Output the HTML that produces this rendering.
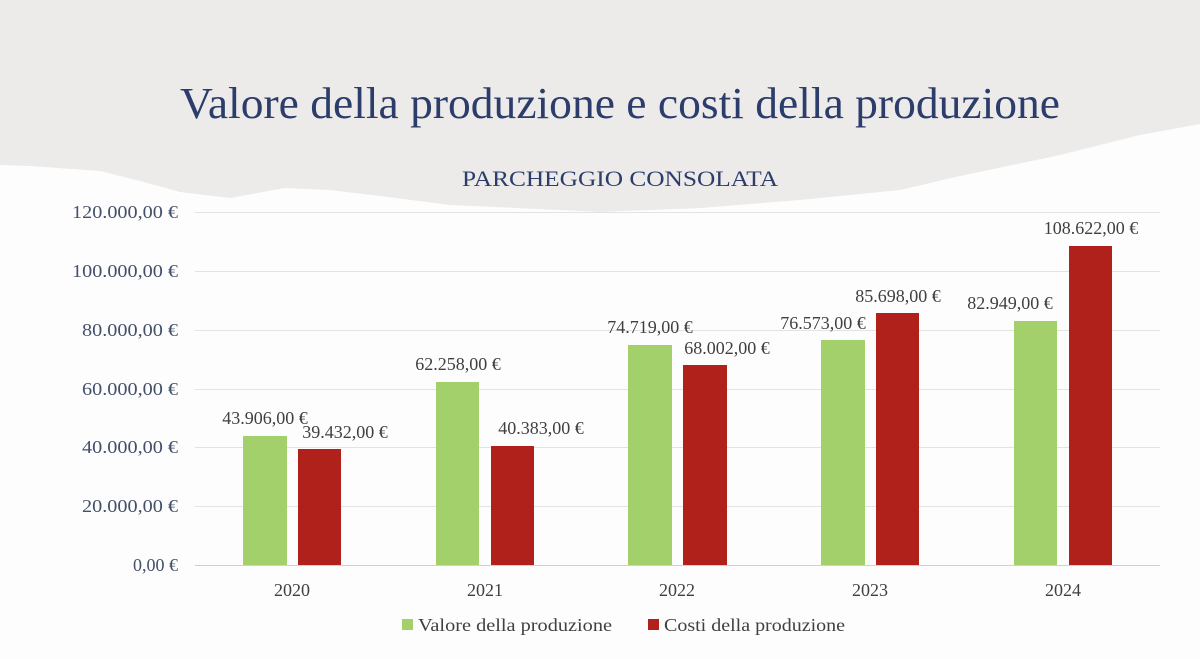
<!DOCTYPE html><html><head><style>
body{margin:0;width:1200px;height:659px;background:#fdfdfd;overflow:hidden;font-family:"Liberation Serif",serif}
</style></head><body>
<svg width="1200" height="659" xmlns="http://www.w3.org/2000/svg" style="position:absolute;left:0;top:0">
<rect width="1200" height="659" fill="#fdfdfd"/>
<polygon fill="#ecebe9" points="0,0 1200,0 1200,124 1140,135 1060,155 960,176 900,190 800,200 700,208 600,212 560,210 450,205 380,196 330,190 285,188 230,198 180,192 140,181 100,171 30,166 0,165"/>
<text x="620" y="118" text-anchor="middle" font-size="44" fill="#2c3d6c" textLength="880" lengthAdjust="spacingAndGlyphs">Valore della produzione e costi della produzione</text>
<text x="620" y="186" text-anchor="middle" font-size="22" fill="#2c3d6c" textLength="316" lengthAdjust="spacingAndGlyphs">PARCHEGGIO CONSOLATA</text>
<g stroke="#e3e3e3" stroke-width="1">
<line x1="195" x2="1160" y1="212.5" y2="212.5"/><line x1="195" x2="1160" y1="271.5" y2="271.5"/><line x1="195" x2="1160" y1="330.5" y2="330.5"/><line x1="195" x2="1160" y1="389.5" y2="389.5"/><line x1="195" x2="1160" y1="447.5" y2="447.5"/><line x1="195" x2="1160" y1="506.5" y2="506.5"/></g>
<line x1="195" x2="1160" y1="565.5" y2="565.5" stroke="#d0d0d0"/>
<g font-size="18" fill="#44506a" text-anchor="end">
<text x="178" y="218" textLength="106" lengthAdjust="spacingAndGlyphs">120.000,00 €</text><text x="178" y="277" textLength="106" lengthAdjust="spacingAndGlyphs">100.000,00 €</text><text x="178" y="336" textLength="96" lengthAdjust="spacingAndGlyphs">80.000,00 €</text><text x="178" y="395" textLength="96" lengthAdjust="spacingAndGlyphs">60.000,00 €</text><text x="178" y="453" textLength="96" lengthAdjust="spacingAndGlyphs">40.000,00 €</text><text x="178" y="512" textLength="96" lengthAdjust="spacingAndGlyphs">20.000,00 €</text><text x="178" y="571">0,00 €</text></g>
<g fill="#a3d06a">
<rect x="243" y="436" width="44" height="129"/><rect x="436" y="382" width="43" height="183"/><rect x="628" y="345" width="44" height="220"/><rect x="821" y="340" width="44" height="225"/><rect x="1014" y="321" width="43" height="244"/></g>
<g fill="#b0211b">
<rect x="298" y="449" width="43" height="116"/><rect x="491" y="446" width="43" height="119"/><rect x="683" y="365" width="44" height="200"/><rect x="876" y="313" width="43" height="252"/><rect x="1069" y="246" width="43" height="319"/></g>
<g font-size="18" fill="#404040" text-anchor="middle">
<text x="265" y="424">43.906,00 €</text><text x="345" y="438">39.432,00 €</text>
<text x="458" y="370">62.258,00 €</text><text x="541" y="434">40.383,00 €</text>
<text x="650" y="333">74.719,00 €</text><text x="727" y="354">68.002,00 €</text>
<text x="823" y="329">76.573,00 €</text><text x="898" y="302">85.698,00 €</text>
<text x="1010" y="309">82.949,00 €</text><text x="1091" y="234">108.622,00 €</text></g>
<g font-size="18" fill="#404040" text-anchor="middle">
<text x="292" y="596">2020</text><text x="485" y="596">2021</text><text x="677" y="596">2022</text><text x="870" y="596">2023</text><text x="1063" y="596">2024</text></g>
<rect x="402" y="619" width="11" height="11" fill="#a3d06a"/>
<text x="418" y="631" font-size="18" fill="#404040" textLength="194" lengthAdjust="spacingAndGlyphs">Valore della produzione</text>
<rect x="648" y="619" width="11" height="11" fill="#b0211b"/>
<text x="664" y="631" font-size="18" fill="#404040" textLength="181" lengthAdjust="spacingAndGlyphs">Costi della produzione</text>
</svg></body></html>
